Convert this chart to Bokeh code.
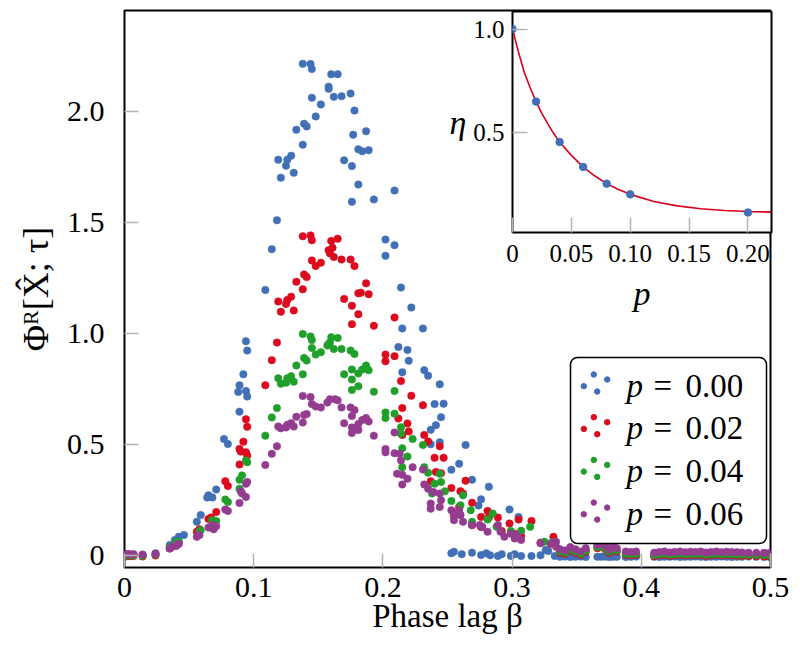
from bokeh.plotting import figure
from bokeh.models import Range1d, FixedTicker, CustomJSTickFormatter, Label
from bokeh.layouts import column
from bokeh.embed import file_html
from bokeh.resources import INLINE

FONT = "Liberation Serif"

# ---------------- data: main scatter (beta, Phi^R) ----------------
blue_x = [0.001, 0.003, 0.005, 0.007, 0.014, 0.024,
          0.035, 0.039, 0.042, 0.046, 0.056, 0.059, 0.064, 0.065, 0.068, 0.071,
          0.077, 0.080, 0.089, 0.088, 0.089, 0.092, 0.094, 0.095, 0.094, 0.095,
          0.109, 0.114, 0.118, 0.119, 0.121, 0.125, 0.126, 0.129, 0.131, 0.133,
          0.138, 0.139, 0.141, 0.138, 0.144, 0.145, 0.145, 0.148, 0.152, 0.158,
          0.158, 0.160, 0.165, 0.162, 0.168, 0.170, 0.175, 0.176, 0.176, 0.177,
          0.178, 0.181, 0.181, 0.184, 0.187, 0.189, 0.193, 0.202, 0.202, 0.209, 0.209,
          0.214, 0.222, 0.215, 0.231, 0.212, 0.219, 0.220, 0.215, 0.232, 0.235,
          0.244, 0.240, 0.247, 0.245, 0.241, 0.237, 0.244, 0.264, 0.237, 0.259,
          0.253, 0.269, 0.282, 0.276, 0.274, 0.298, 0.305, 0.328, 0.326,
          0.253, 0.255, 0.261, 0.269, 0.276, 0.280, 0.283, 0.289, 0.292, 0.299,
          0.302, 0.307, 0.315, 0.322, 0.333]
blue_y = [0.005, 0.006, 0.004, 0.006, 0.005, 0.012,
          0.049, 0.072, 0.086, 0.094, 0.154, 0.184, 0.263, 0.273, 0.263, 0.299,
          0.527, 0.504, 0.650, 0.739, 0.769, 0.818, 0.743, 0.718, 0.967, 0.925,
          1.198, 1.382, 1.512, 1.785, 1.704, 1.758, 1.785, 1.803, 1.726, 1.920,
          1.852, 1.947, 1.935, 2.217, 2.216, 2.193, 2.064, 1.980, 2.034, 2.114,
          2.104, 2.170, 2.170, 2.068, 2.071, 1.782, 2.083, 1.756, 1.595, 1.897,
          2.006, 1.832, 1.673, 1.823, 1.913, 1.828, 1.606, 1.352, 1.425, 1.646, 1.400,
          1.209, 1.119, 1.025, 1.025, 0.941, 0.928, 0.879, 0.827, 0.837, 0.812,
          0.773, 0.684, 0.686, 0.625, 0.589, 0.568, 0.512, 0.500, 0.503, 0.415,
          0.388, 0.343, 0.312, 0.255, 0.227, 0.209, 0.176, 0.022, 0.027,
          0.012, 0.019, 0.008, 0.015, 0.004, 0.012, 0.003, 0.000, 0.008, 0.000,
          0.008, 0.000, 0.000, 0.003, 0.000]

red_x = [0.001, 0.003, 0.005, 0.007, 0.014, 0.024,
         0.035, 0.040, 0.042, 0.056, 0.058, 0.065, 0.067, 0.071, 0.078, 0.080,
         0.089, 0.089, 0.090, 0.094, 0.095, 0.092, 0.094, 0.095, 0.109, 0.114, 0.118,
         0.119, 0.121, 0.125, 0.126, 0.129, 0.131, 0.133, 0.138, 0.139, 0.141,
         0.138, 0.144, 0.145, 0.145, 0.148, 0.152, 0.158, 0.159, 0.161, 0.160,
         0.165, 0.162, 0.168, 0.170, 0.175, 0.176, 0.176, 0.178, 0.181, 0.181,
         0.183, 0.187, 0.189, 0.193, 0.202, 0.202, 0.209, 0.209,
         0.214, 0.222, 0.215, 0.231, 0.212, 0.219, 0.215, 0.220, 0.232, 0.235,
         0.244, 0.240, 0.247, 0.241, 0.245, 0.237, 0.264, 0.253, 0.260, 0.262,
         0.269, 0.259, 0.281, 0.276, 0.282, 0.269, 0.289, 0.305, 0.298, 0.315, 0.292, 0.332,
         0.255, 0.276, 0.307, 0.302, 0.322, 0.330]
red_y = [-0.002, 0.000, -0.001, 0.000, -0.002, 0.002,
         0.034, 0.057, 0.062, 0.109, 0.120, 0.167, 0.173, 0.198, 0.337, 0.315,
         0.412, 0.482, 0.470, 0.467, 0.452, 0.515, 0.616, 0.582, 0.769, 0.882, 0.961,
         1.146, 1.100, 1.135, 1.153, 1.168, 1.106, 1.235, 1.201, 1.268, 1.256,
         1.440, 1.444, 1.422, 1.331, 1.306, 1.321, 1.377, 1.363, 1.388, 1.419,
         1.429, 1.347, 1.335, 1.158, 1.335, 1.127, 1.044, 1.306, 1.183, 1.089,
         1.186, 1.228, 1.179, 1.037, 0.877, 0.907, 1.074, 0.900,
         0.788, 0.722, 0.666, 0.679, 0.619, 0.597, 0.545, 0.561, 0.545, 0.516,
         0.494, 0.442, 0.442, 0.378, 0.373, 0.336, 0.339, 0.306, 0.292, 0.281,
         0.240, 0.221, 0.203, 0.176, 0.173, 0.139, 0.173, 0.164, 0.146, 0.158, 0.112, 0.086,
         0.180, 0.130, 0.090, 0.100, 0.060, 0.055]

green_x = [0.001, 0.003, 0.005, 0.007, 0.014, 0.024,
           0.035, 0.040, 0.042, 0.058, 0.059, 0.068, 0.071, 0.078, 0.080,
           0.089, 0.089, 0.091, 0.094, 0.095, 0.109, 0.114, 0.118,
           0.119, 0.121, 0.125, 0.126, 0.129, 0.131, 0.133, 0.138, 0.139, 0.141,
           0.138, 0.144, 0.145, 0.145, 0.148, 0.152, 0.157, 0.158, 0.159, 0.160,
           0.165, 0.162, 0.168, 0.170, 0.175, 0.176, 0.176, 0.176, 0.178, 0.181,
           0.181, 0.184, 0.187, 0.189, 0.193, 0.202, 0.202, 0.209, 0.209,
           0.214, 0.214, 0.223, 0.215, 0.219, 0.215, 0.231, 0.232, 0.235, 0.244,
           0.240, 0.245, 0.238, 0.248, 0.253, 0.262, 0.260, 0.268, 0.260, 0.269,
           0.281, 0.285, 0.288, 0.299, 0.307, 0.314, 0.325, 0.332]
green_y = [0.002, 0.003, 0.002, 0.003, 0.001, 0.006,
           0.040, 0.060, 0.065, 0.109, 0.116, 0.161, 0.157, 0.254, 0.243,
           0.303, 0.343, 0.363, 0.430, 0.422, 0.542, 0.624, 0.666,
           0.800, 0.776, 0.780, 0.800, 0.810, 0.785, 0.858, 0.818, 0.892, 0.880,
           1.000, 0.989, 0.973, 0.937, 0.907, 0.918, 0.948, 0.955, 0.962, 0.985,
           0.982, 0.932, 0.932, 0.818, 0.925, 0.795, 0.748, 0.840, 0.910, 0.822,
           0.764, 0.840, 0.858, 0.837, 0.740, 0.621, 0.646, 0.743, 0.641,
           0.580, 0.551, 0.527, 0.485, 0.448, 0.400, 0.500, 0.400, 0.375, 0.370,
           0.325, 0.333, 0.281, 0.291, 0.248, 0.273, 0.228, 0.206, 0.184, 0.154,
           0.164, 0.191, 0.131, 0.113, 0.113, 0.131, 0.064, 0.064]

purple_x = [0.001, 0.003, 0.005, 0.007, 0.014, 0.024,
            0.035, 0.037, 0.040, 0.042, 0.056, 0.058, 0.065, 0.068, 0.069, 0.071,
            0.078, 0.080, 0.089, 0.090, 0.091, 0.094, 0.094, 0.095, 0.109, 0.114, 0.118,
            0.119, 0.121, 0.125, 0.126, 0.129, 0.131, 0.133, 0.138, 0.139, 0.141,
            0.138, 0.144, 0.145, 0.148, 0.152, 0.157, 0.159, 0.163, 0.165, 0.168,
            0.170, 0.175, 0.176, 0.176, 0.176, 0.178, 0.181, 0.181, 0.184, 0.187, 0.189,
            0.193, 0.202, 0.202, 0.209, 0.209,
            0.213, 0.214, 0.223, 0.211, 0.215, 0.219, 0.215, 0.231, 0.232, 0.235,
            0.239, 0.237, 0.237, 0.244, 0.245, 0.244, 0.253, 0.255, 0.259, 0.260,
            0.262, 0.255, 0.269, 0.275, 0.277, 0.281, 0.289, 0.291, 0.294, 0.299,
            0.302, 0.304, 0.307, 0.322, 0.330, 0.334, 0.334]
purple_y = [0.008, 0.009, 0.007, 0.008, 0.006, 0.010,
            0.034, 0.042, 0.045, 0.054, 0.086, 0.094, 0.128, 0.139, 0.120, 0.134,
            0.209, 0.203, 0.239, 0.292, 0.281, 0.266, 0.325, 0.333, 0.410, 0.460, 0.494,
            0.583, 0.575, 0.579, 0.591, 0.598, 0.583, 0.627, 0.601, 0.635, 0.639,
            0.721, 0.716, 0.684, 0.673, 0.669, 0.691, 0.706, 0.706, 0.701, 0.669,
            0.598, 0.669, 0.579, 0.554, 0.630, 0.657, 0.594, 0.567, 0.612, 0.621, 0.606,
            0.542, 0.467, 0.482, 0.556, 0.463,
            0.460, 0.430, 0.400, 0.370, 0.366, 0.348, 0.322, 0.389, 0.322, 0.303,
            0.288, 0.236, 0.213, 0.281, 0.251, 0.221, 0.206, 0.191, 0.206, 0.184,
            0.154, 0.161, 0.139, 0.139, 0.131, 0.109, 0.139, 0.109, 0.087, 0.100,
            0.079, 0.094, 0.072, 0.057, 0.057, 0.064, 0.042]

# tail (beta > 0.335), all four series near zero
tail_beta = [0.337, 0.341, 0.345, 0.349, 0.353, 0.357, 0.366, 0.369, 0.372, 0.375,
             0.378, 0.381, 0.388, 0.392, 0.396, 0.410, 0.414, 0.418, 0.422, 0.426,
             0.430, 0.434, 0.438, 0.442, 0.446, 0.450, 0.454, 0.458, 0.462, 0.466,
             0.470, 0.474, 0.478, 0.483, 0.489, 0.495, 0.499]
tail_blue = [-0.004, -0.003, -0.005, -0.004, -0.003, -0.005, -0.004, -0.004, -0.003, -0.005,
             -0.004, -0.004, -0.005, -0.004, -0.003, -0.004, -0.005, -0.004, -0.004, -0.003,
             -0.005, -0.004, -0.004, -0.003, -0.004, -0.005, -0.004, -0.004, -0.003, -0.004,
             -0.005, -0.004, -0.004, -0.003, -0.004, -0.005, -0.004]
tail_red = [0.015, 0.010, 0.025, 0.015, 0.005, 0.020, 0.035, 0.043, 0.030, 0.015,
            0.035, 0.020, 0.005, 0.003, 0.005, 0.000, 0.003, 0.005, 0.001, 0.003,
            0.005, 0.002, 0.004, 0.003, 0.005, 0.001, 0.003, 0.005, 0.002, 0.004,
            0.003, 0.002, 0.001, 0.000, -0.001, -0.001, -0.002]
tail_green = [0.020, 0.015, 0.030, 0.020, 0.010, 0.025, 0.040, 0.048, 0.035, 0.020,
              0.040, 0.025, 0.010, 0.008, 0.010, 0.005, 0.008, 0.010, 0.006, 0.008,
              0.010, 0.007, 0.009, 0.008, 0.010, 0.006, 0.008, 0.010, 0.007, 0.009,
              0.008, 0.007, 0.006, 0.005, 0.004, 0.004, 0.003]
tail_purple = [0.030, 0.025, 0.040, 0.030, 0.020, 0.035, 0.050, 0.058, 0.045, 0.030,
               0.050, 0.035, 0.020, 0.018, 0.020, 0.015, 0.018, 0.020, 0.016, 0.018,
               0.020, 0.017, 0.019, 0.018, 0.020, 0.016, 0.018, 0.020, 0.017, 0.019,
               0.018, 0.017, 0.016, 0.015, 0.014, 0.014, 0.013]

series_labels = ["0.00", "0.02", "0.04", "0.06"]
series_colors = ["#4270b6", "#dc0a1e", "#20a02a", "#943c90"]

# ---------------- data: inset (p, eta) ----------------
inset_p = [0.0, 0.02, 0.04, 0.06, 0.08, 0.10, 0.20]
inset_eta = [1.0, 0.648, 0.452, 0.331, 0.250, 0.198, 0.110]
fit_p = [0.0, 0.005, 0.01, 0.015, 0.02, 0.025, 0.03, 0.035, 0.04, 0.05, 0.06, 0.07,
         0.08, 0.09, 0.10, 0.12, 0.14, 0.16, 0.18, 0.20, 0.22]
fit_eta = [1.0, 0.89, 0.79, 0.715, 0.648, 0.59, 0.54, 0.493, 0.452, 0.387, 0.331, 0.287,
           0.25, 0.222, 0.198, 0.163, 0.142, 0.128, 0.12, 0.115, 0.112]

main_xticks = [0, 0.1, 0.2, 0.3, 0.4, 0.5]
main_yticks = [0, 0.5, 1.0, 1.5, 2.0]
inset_xticks = [0, 0.05, 0.10, 0.15, 0.20]
inset_yticks = [0.5, 1.0]

# ---------------- main figure ----------------
BL, BR, BT, BB = 124, 20, 10, 93
W, H = 790, 660
FW, FH = W - BL - BR, H - BT - BB  # frame size in px
p = figure(width=W, height=H, x_range=Range1d(0, 0.5), y_range=Range1d(-0.052, 2.457),
           output_backend="svg", toolbar_location=None,
           min_border_left=BL, min_border_right=BR, min_border_top=BT, min_border_bottom=BB)
p.grid.visible = False
p.outline_line_color = "black"
p.outline_line_width = 2
p.background_fill_color = "white"
p.border_fill_color = "white"

p.xaxis.ticker = FixedTicker(ticks=main_xticks)
p.yaxis.ticker = FixedTicker(ticks=main_yticks)
p.xaxis.formatter = CustomJSTickFormatter(code="return tick == 0 ? '0' : tick.toFixed(1);")
p.yaxis.formatter = CustomJSTickFormatter(code="return tick == 0 ? '0' : tick.toFixed(1);")
for ax in (p.xaxis[0], p.yaxis[0]):
    ax.axis_line_color = None
    ax.major_tick_in = 14
    ax.major_tick_out = 0
    ax.minor_tick_line_color = None
    ax.major_tick_line_color = "#b4b4b4"
    ax.major_tick_line_width = 1.5
    ax.major_label_text_font = FONT
    ax.major_label_text_font_size = "30px"
    ax.major_label_text_color = "black"
    ax.axis_label_text_font = FONT
    ax.axis_label_text_font_size = "33px"
    ax.axis_label_text_font_style = "normal"
    ax.axis_label_text_color = "black"
p.xaxis.major_label_standoff = 10
p.yaxis.major_label_standoff = 20
p.xaxis.axis_label = "Phase lag β"
p.xaxis.axis_label_standoff = -2
p.yaxis.axis_label = "Φᴿ[X̂; τ]"
p.yaxis.axis_label_text_font_size = "36px"
p.yaxis.axis_label_standoff = 8

all_x = [blue_x + tail_beta, red_x + tail_beta, green_x + tail_beta, purple_x + tail_beta]
all_y = [blue_y + tail_blue, red_y + tail_red, green_y + tail_green, purple_y + tail_purple]
for xs, ys, c in zip(all_x, all_y, series_colors):
    p.scatter(xs, ys, size=7.5, fill_color=c, line_color=c, line_width=0.5)

# pixel ranges for the legend box (origin at frame bottom-left)
p.extra_x_ranges = {"px": Range1d(0, FW)}
p.extra_y_ranges = {"py": Range1d(0, FH)}
p.quad(left=[446], right=[642], bottom=[24], top=[210], x_range_name="px", y_range_name="py",
       fill_color="white", line_color="black", line_width=1.5, border_radius=7)
dot_dx = [459.3, 469.3, 482.7, 472.7]
dot_dy = [181.3, 193.0, 188.0, 176.0]
for k, (lab, c) in enumerate(zip(series_labels, series_colors)):
    off = 42.7 * k
    p.scatter(dot_dx, [d - off for d in dot_dy], size=5.5,
              fill_color=c, line_color=c, x_range_name="px", y_range_name="py")
    base = 182 - off
    p.add_layout(Label(x=502, y=base, x_range_name="px", y_range_name="py", text="p",
                       text_font=FONT, text_font_style="italic", text_font_size="33px",
                       text_baseline="alphabetic", text_color="black"))
    p.add_layout(Label(x=529, y=base, x_range_name="px", y_range_name="py", text="=",
                       text_font=FONT, text_font_size="33px",
                       text_baseline="alphabetic", text_color="black"))
    p.add_layout(Label(x=561, y=base, x_range_name="px", y_range_name="py", text=lab,
                       text_font=FONT, text_font_size="33px",
                       text_baseline="alphabetic", text_color="black"))

# ---------------- inset figure ----------------
IW = BL + 259 + BR
q = figure(width=IW, height=320, x_range=Range1d(0, 0.22), y_range=Range1d(0.013, 1.085),
           output_backend="svg", toolbar_location=None,
           min_border_left=BL, min_border_right=BR, min_border_top=11, min_border_bottom=88,
           styles={"position": "absolute", "left": "388px", "top": "0px"})
q.grid.visible = False
q.outline_line_color = "black"
q.outline_line_width = 2
q.background_fill_color = "white"
q.border_fill_color = None
q.xaxis.ticker = FixedTicker(ticks=inset_xticks)
q.yaxis.ticker = FixedTicker(ticks=inset_yticks)
q.xaxis.formatter = CustomJSTickFormatter(code="return tick == 0 ? '0' : tick.toFixed(2);")
q.yaxis.formatter = CustomJSTickFormatter(code="return tick.toFixed(1);")
for ax in (q.xaxis[0], q.yaxis[0]):
    ax.axis_line_color = None
    ax.major_tick_in = 15
    ax.major_tick_out = 0
    ax.minor_tick_line_color = None
    ax.major_tick_line_color = "#b4b4b4"
    ax.major_tick_line_width = 1.5
    ax.major_label_text_font = FONT
    ax.major_label_text_font_size = "25px"
    ax.major_label_text_color = "black"
    ax.axis_label_text_font = FONT
    ax.axis_label_text_font_size = "34px"
    ax.axis_label_text_font_style = "italic"
    ax.axis_label_text_color = "black"
q.xaxis.major_label_standoff = 12
q.yaxis.major_label_standoff = 8
q.xaxis.axis_label = "p"
q.xaxis.axis_label_standoff = 10
q.yaxis.axis_label = "η"
q.yaxis.axis_label_orientation = "horizontal"
q.yaxis.axis_label_standoff = 4
q.line(fit_p, fit_eta, line_color="#d9001b", line_width=1.6)
q.scatter(inset_p, inset_eta, size=7.5, fill_color=series_colors[0], line_color=series_colors[0])

layout = column(p, q, styles={"position": "relative"})
open("out.html", "w").write(file_html(layout, INLINE))
